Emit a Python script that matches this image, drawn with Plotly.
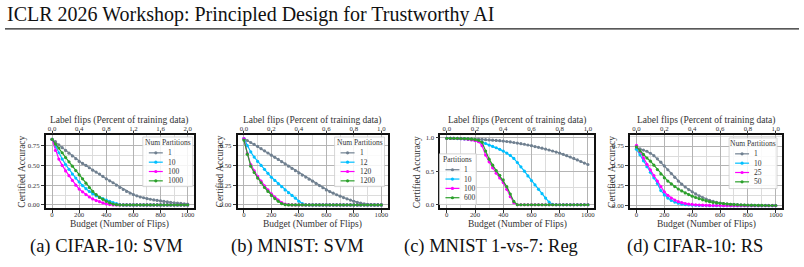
import plotly.graph_objects as go

W, H = 804, 267
SERIF = "Liberation Serif"

# ---------------- data ----------------
BUDGET = list(range(0, 1001, 25))
X_TICKS = [0, 200, 400, 600, 800, 1000]
TOP_TEXT_A = ["0.0", "0.4", "0.8", "1.2", "1.6", "2.0"]
TOP_TEXT_BCD = ["0.0", "0.2", "0.4", "0.6", "0.8", "1.0"]
Y_TICKS_ABD = [0, 0.25, 0.5, 0.75]
Y_TEXT_ABD = ["0.00", "0.25", "0.50", "0.75"]
Y_TICKS_C = [0, 0.5, 1.0]
Y_TEXT_C = ["0.0", "0.5", "1.0"]

CAPTIONS = ["(a) CIFAR-10: SVM", "(b) MNIST: SVM", "(c) MNIST 1-vs-7: Reg", "(d) CIFAR-10: RS"]
HEADER = "ICLR 2026 Workshop: Principled Design for Trustworthy AI"
LEGEND_TITLES = ["Num Partitions", "Num Partitions", "Partitions", "Num Partitions"]
COLORS = ["#708090", "#00bfff", "#ff00ff", "#2ca02c"]

# (a) CIFAR-10: SVM
A_LABELS = ["1", "10", "100", "1000"]
A_1 = [0.83, 0.80, 0.76, 0.725, 0.69, 0.655, 0.62, 0.585, 0.55, 0.525, 0.50, 0.47, 0.44, 0.415,
       0.39, 0.36, 0.33, 0.305, 0.28, 0.25, 0.22, 0.195, 0.17, 0.15, 0.13, 0.115, 0.10, 0.09,
       0.08, 0.071, 0.063, 0.056, 0.05, 0.044, 0.038, 0.032, 0.027, 0.022, 0.018, 0.014, 0.01]
A_10 = [0.83, 0.74, 0.66, 0.58, 0.51, 0.45, 0.39, 0.34, 0.29, 0.245, 0.205, 0.17, 0.14, 0.115,
        0.095, 0.078, 0.062, 0.045, 0.03, 0.015, 0.004] + [0.0] * 20
A_100 = [0.83, 0.69, 0.58, 0.50, 0.43, 0.37, 0.31, 0.25, 0.20, 0.165, 0.13, 0.10, 0.075, 0.055,
         0.04, 0.025, 0.012, 0.004] + [0.0] * 23
A_1000 = [0.83, 0.77, 0.72, 0.66, 0.60, 0.545, 0.49, 0.435, 0.38, 0.33, 0.275, 0.22, 0.17, 0.13,
          0.095, 0.07, 0.045, 0.025, 0.01, 0.003] + [0.0] * 21

# (b) MNIST: SVM
B_LABELS = ["1", "12", "120", "1200"]
B_1 = [0.84, 0.815, 0.79, 0.765, 0.74, 0.712, 0.685, 0.657, 0.63, 0.602, 0.575, 0.547, 0.52, 0.49,
       0.462, 0.433, 0.405, 0.378, 0.352, 0.326, 0.30, 0.272, 0.245, 0.217, 0.19, 0.168, 0.148,
       0.128, 0.11, 0.093, 0.077, 0.061, 0.046, 0.033, 0.022, 0.013, 0.006, 0.002, 0.0, 0.0, 0.0]
B_12 = [0.84, 0.75, 0.67, 0.605, 0.55, 0.50, 0.45, 0.40, 0.35, 0.31, 0.27, 0.23, 0.19, 0.155,
        0.12, 0.085, 0.046, 0.015] + [0.0] * 23
B_120 = [0.84, 0.65, 0.51, 0.43, 0.36, 0.30, 0.24, 0.19, 0.14, 0.10, 0.06, 0.03, 0.01, 0.002] + [0.0] * 27
B_1200 = [0.82, 0.64, 0.49, 0.41, 0.34, 0.28, 0.22, 0.17, 0.12, 0.08, 0.045, 0.015, 0.002] + [0.0] * 28

# (c) MNIST 1-vs-7: Reg
C_LABELS = ["1", "10", "100", "600"]
C_1 = [0.99, 0.99, 0.99, 0.99, 0.99, 0.988, 0.986, 0.984, 0.98, 0.977, 0.974, 0.97, 0.966, 0.963,
       0.959, 0.955, 0.95, 0.943, 0.936, 0.928, 0.92, 0.911, 0.902, 0.891, 0.88, 0.868, 0.856,
       0.843, 0.83, 0.816, 0.801, 0.786, 0.77, 0.751, 0.732, 0.712, 0.69, 0.668, 0.645, 0.622, 0.60]
C_10 = [0.99, 0.99, 0.99, 0.987, 0.985, 0.981, 0.976, 0.969, 0.96, 0.948, 0.933, 0.913, 0.89, 0.87,
        0.85, 0.826, 0.80, 0.77, 0.735, 0.69, 0.63, 0.565, 0.50, 0.43, 0.36, 0.295, 0.23, 0.165,
        0.10, 0.04, 0.005] + [0.0] * 10
C_100 = [0.99, 0.99, 0.99, 0.988, 0.985, 0.98, 0.975, 0.967, 0.957, 0.94, 0.88, 0.74, 0.64, 0.55,
         0.47, 0.40, 0.33, 0.23, 0.12, 0.03] + [0.0] * 21
C_600 = [0.99, 0.99, 0.99, 0.99, 0.988, 0.986, 0.983, 0.978, 0.972, 0.96, 0.93, 0.80, 0.68, 0.59,
         0.51, 0.44, 0.37, 0.27, 0.16, 0.05] + [0.0] * 21

# (d) CIFAR-10: RS
D_LABELS = ["1", "10", "25", "50"]
D_1 = [0.72, 0.715, 0.70, 0.685, 0.66, 0.63, 0.59, 0.548, 0.50, 0.452, 0.405, 0.357, 0.31, 0.27,
       0.235, 0.203, 0.175, 0.148, 0.125, 0.103, 0.083, 0.068, 0.055, 0.043, 0.033, 0.027, 0.022,
       0.018, 0.015, 0.012, 0.01, 0.008, 0.007, 0.006, 0.005, 0.005, 0.004, 0.004, 0.003, 0.003, 0.003]
D_10 = [0.71, 0.64, 0.565, 0.49, 0.42, 0.35, 0.28, 0.19, 0.135, 0.095, 0.065, 0.045, 0.03, 0.02,
        0.014, 0.01, 0.007, 0.005, 0.003, 0.002, 0.001] + [0.0] * 20
D_25 = [0.76, 0.68, 0.60, 0.52, 0.45, 0.38, 0.31, 0.24, 0.175, 0.13, 0.095, 0.07, 0.05, 0.037,
        0.027, 0.02, 0.015, 0.011, 0.008, 0.006, 0.004, 0.003, 0.002, 0.002, 0.001] + [0.0] * 16
D_50 = [0.74, 0.69, 0.645, 0.60, 0.56, 0.51, 0.455, 0.40, 0.35, 0.31, 0.275, 0.24, 0.21, 0.185,
        0.16, 0.14, 0.12, 0.103, 0.088, 0.073, 0.06, 0.05, 0.04, 0.035, 0.03, 0.025, 0.02, 0.016,
        0.012, 0.01, 0.008, 0.007, 0.005, 0.004, 0.004, 0.003, 0.003, 0.002, 0.002, 0.002, 0.002]

SERIES = [[A_1, A_10, A_100, A_1000], [B_1, B_12, B_120, B_1200],
          [C_1, C_10, C_100, C_600], [D_1, D_10, D_25, D_50]]
LABELS = [A_LABELS, B_LABELS, C_LABELS, D_LABELS]
TOP_TEXTS = [TOP_TEXT_A, TOP_TEXT_BCD, TOP_TEXT_BCD, TOP_TEXT_BCD]
Y_TICKS = [Y_TICKS_ABD, Y_TICKS_ABD, Y_TICKS_C, Y_TICKS_ABD]
Y_TEXTS = [Y_TEXT_ABD, Y_TEXT_ABD, Y_TEXT_C, Y_TEXT_ABD]

# ---------------- layout (pixel geometry) ----------------
BOXES = [(46, 135, 194, 209), (238, 135, 388, 209), (441, 135, 595, 209), (631, 135, 783, 209)]
YRANGES = [(-0.045, 0.885), (-0.045, 0.885), (-0.055, 1.04), (-0.035, 0.89)]
Y_MINOR = [0.125, 0.125, 0.25, 0.125]
XRANGE = (-45, 1045)
CAPTION_X = [107, 298, 492, 696]
YLABEL_X = [22, 220, 417, 612]
LEGEND_BOX = [(143, 137, 193, 187), (335, 137, 385, 187), (440, 154, 477, 205), (730, 138, 778, 189)]


def fx(x):
    return x / W


def fy(y):
    return 1 - y / H


fig = go.Figure()
layout = dict(width=W, height=H, margin=dict(l=0, r=0, t=0, b=0),
              paper_bgcolor="white", plot_bgcolor="white", showlegend=False,
              font=dict(family=SERIF, color="#222"))
shapes, annotations = [], []

tickfont = dict(family=SERIF, size=6.8, color="#333")
titlefont = dict(family=SERIF, size=9.5, color="#333")
legfont = dict(family=SERIF, size=7.5, color="#333")

for i in range(4):
    n = i + 1
    suf = "" if n == 1 else str(n)
    xb, yb = "x" + suf, "y" + suf
    nt = n + 4
    xt = "x" + str(nt)
    x0, y0, x1, y1 = BOXES[i]

    for k, ys in enumerate(SERIES[i]):
        fig.add_trace(go.Scatter(
            x=BUDGET, y=ys, xaxis=xb, yaxis=yb, mode="lines+markers",
            name=LABELS[i][k], line=dict(color=COLORS[k], width=1.2),
            marker=dict(size=3.2, color=COLORS[k]), hoverinfo="skip"))
    # invisible twin so the top axis is drawn
    fig.add_trace(go.Scatter(x=BUDGET, y=SERIES[i][0], xaxis=xt, yaxis=yb, mode="lines",
                             line=dict(color="rgba(0,0,0,0)"), hoverinfo="skip"))

    layout["xaxis" + suf] = dict(
        domain=[fx(x0), fx(x1)], anchor=yb, range=list(XRANGE),
        tickmode="array", tickvals=X_TICKS, ticktext=[str(v) for v in X_TICKS],
        ticks="outside", ticklen=3, tickwidth=0.8, tickcolor="#333", tickfont=tickfont,
        ticklabelstandoff=-4,
        showline=True, linecolor="#111", linewidth=1.8, mirror=True,
        showgrid=True, gridcolor="#b4b4b4", gridwidth=0.8, zeroline=False,
        minor=dict(dtick=100, tick0=0, showgrid=True, gridcolor="#dcdcdc", gridwidth=0.6))
    layout["yaxis" + suf] = dict(
        domain=[fy(y1), fy(y0)], anchor=xb, range=list(YRANGES[i]),
        tickmode="array", tickvals=Y_TICKS[i], ticktext=Y_TEXTS[i],
        ticks="outside", ticklen=3, tickwidth=0.8, tickcolor="#333", tickfont=tickfont,
        showline=True, linecolor="#111", linewidth=1.8, mirror=True,
        showgrid=True, gridcolor="#b4b4b4", gridwidth=0.8, zeroline=False,
        minor=dict(dtick=Y_MINOR[i], tick0=0, showgrid=True, gridcolor="#dcdcdc", gridwidth=0.6))
    layout["xaxis" + str(nt)] = dict(
        overlaying=xb, anchor=yb, side="top", range=list(XRANGE),
        tickmode="array", tickvals=X_TICKS, ticktext=TOP_TEXTS[i],
        ticks="outside", ticklen=3, tickwidth=0.8, tickcolor="#333", tickfont=tickfont,
        ticklabelstandoff=-3,
        showline=False, showgrid=False, zeroline=False)

    cx = (x0 + x1) / 2
    cy = (y0 + y1) / 2
    annotations += [
        dict(text="Budget (Number of Flips)", x=fx(cx), y=fy(225.5), xref="paper", yref="paper",
             xanchor="center", yanchor="middle", showarrow=False, font=titlefont, borderpad=0),
        dict(text="Label flips (Percent of training data)", x=fx(cx), y=fy(120), xref="paper",
             yref="paper", xanchor="center", yanchor="middle", showarrow=False, font=titlefont,
             borderpad=0),
        dict(text="Certified Accuracy", x=fx(YLABEL_X[i]), y=fy(cy), xref="paper", yref="paper",
             xanchor="center", yanchor="middle", textangle=-90, showarrow=False, font=titlefont,
             borderpad=0),
        dict(text=CAPTIONS[i], x=fx(CAPTION_X[i]), y=fy(247), xref="paper", yref="paper",
             xanchor="center", yanchor="middle", showarrow=False,
             font=dict(family=SERIF, size=18.5, color="#111")),
    ]

    # legend (drawn as decoration)
    lx0, ly0, lx1, ly1 = LEGEND_BOX[i]
    shapes.append(dict(type="rect", xref="paper", yref="paper", x0=fx(lx0), x1=fx(lx1),
                       y0=fy(ly1), y1=fy(ly0), line=dict(color="#cccccc", width=0.8),
                       fillcolor="rgba(255,255,255,0.85)", layer="above"))
    annotations.append(dict(text=LEGEND_TITLES[i], x=fx((lx0 + lx1) / 2), y=fy(ly0 + 6),
                            xref="paper", yref="paper", xanchor="center", yanchor="middle",
                            showarrow=False, font=legfont, borderpad=0))
    for k, lab in enumerate(LABELS[i]):
        yy = ly0 + 16 + 9.4 * k
        sx0, sx1 = lx0 + 6, lx0 + 20
        shapes.append(dict(type="line", xref="paper", yref="paper", x0=fx(sx0), x1=fx(sx1),
                           y0=fy(yy), y1=fy(yy), line=dict(color=COLORS[k], width=1.2), layer="above"))
        mx = (sx0 + sx1) / 2
        shapes.append(dict(type="circle", xref="paper", yref="paper", x0=fx(mx - 1.6), x1=fx(mx + 1.6),
                           y0=fy(yy + 1.6), y1=fy(yy - 1.6), line=dict(width=0),
                           fillcolor=COLORS[k], layer="above"))
        annotations.append(dict(text=lab, x=fx(lx0 + 24), y=fy(yy), xref="paper", yref="paper",
                                xanchor="left", yanchor="middle", showarrow=False, font=legfont,
                                borderpad=0))

# page header
annotations.append(dict(text=HEADER, x=fx(5), y=fy(14), xref="paper", yref="paper",
                        xanchor="left", yanchor="middle", showarrow=False,
                        font=dict(family=SERIF, size=20, color="#111")))
shapes.append(dict(type="line", xref="paper", yref="paper", x0=fx(5), x1=fx(800),
                   y0=fy(28), y1=fy(28), line=dict(color="#222", width=1.2)))

layout["shapes"] = shapes
layout["annotations"] = annotations
fig.update_layout(**layout)
fig.write_html("out.html")
